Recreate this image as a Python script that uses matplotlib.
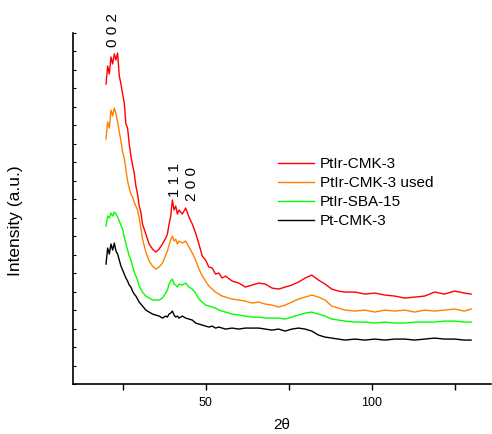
import numpy as np
import matplotlib
matplotlib.use("Agg")
from matplotlib import pyplot as plt

plt.rcParams['font.family'] = ['Liberation Sans', 'DejaVu Sans']

# 2theta grid (deg)
two_theta = [20, 20.5, 21, 21.5, 22, 22.5, 23, 23.5, 24, 24.5, 25, 25.5, 26, 26.5, 27, 27.5,
             28, 28.5, 29, 29.5, 30, 30.5, 31, 32, 33, 34, 35, 36, 37, 38, 38.5, 39, 39.5,
             40, 40.5, 41, 41.5, 42, 43, 44, 45, 46, 47, 48, 49, 50, 51, 52, 53, 54, 55, 56,
             58, 60, 62, 64, 66, 68, 70, 72, 74, 76, 78, 80, 82, 84, 86, 88, 90, 92,
             95, 98, 101, 104, 107, 110, 113, 116, 119, 122, 125, 128, 130]

# intensities (a.u., offset stacked as in the figure)
ptir_cmk3 = [300, 318, 310, 327, 320, 330, 324, 331, 308, 300, 290, 281, 260, 256, 240, 228,
             219, 211, 198, 190, 178, 172, 160, 150, 140, 135, 132, 135, 140, 146, 150, 160, 168,
             184, 174, 178, 170, 174, 170, 176, 167, 160, 151, 140, 128, 124, 117, 116, 110, 111, 106, 108,
             103, 101, 97, 99, 101, 100, 96, 95, 97, 99, 102, 106, 109, 104, 100, 95, 93, 92,
             92, 90, 91, 89, 88, 86, 87, 88, 92, 90, 93, 91, 90]
ptir_cmk3_used = [245, 262, 256, 274, 268, 276, 270, 262, 252, 243, 232, 226, 214, 203, 196, 190,
                  187, 182, 178, 174, 166, 156, 145, 132, 123, 118, 115, 117, 121, 129, 133, 139, 144,
                  148, 143, 145, 140, 143, 141, 143, 137, 131, 124, 115, 108, 103, 98, 95, 92, 90, 88, 87,
                  85, 84, 83, 81, 82, 80, 79, 77, 79, 82, 85, 87, 89, 87, 84, 78, 76, 74,
                  73, 74, 72, 74, 73, 74, 72, 74, 73, 74, 75, 73, 75]
ptir_sba15 = [158, 168, 166, 171, 168, 172, 170, 167, 163, 159, 155, 147, 140, 134, 128, 124,
              118, 112, 108, 104, 98, 95, 92, 88, 86, 84, 84, 84, 86, 91, 94, 100, 103,
              105, 100, 99, 97, 100, 99, 101, 97, 95, 91, 85, 82, 79, 78, 77, 76, 74, 73, 72,
              70, 69, 68, 67, 67, 66, 66, 66, 65, 67, 69, 71, 72, 70, 68, 65, 64, 63,
              62, 62, 61, 62, 61, 61, 62, 62, 62, 63, 63, 62, 62]
pt_cmk3 = [120, 136, 130, 140, 134, 141, 133, 130, 124, 118, 114, 110, 106, 103, 99, 97,
           93, 90, 88, 85, 82, 80, 78, 74, 72, 70, 69, 68, 66, 68, 67, 70, 71,
           73, 69, 67, 68, 66, 68, 66, 65, 64, 61, 60, 59, 58, 57, 58, 56, 57, 56, 55,
           56, 55, 56, 56, 56, 55, 54, 55, 53, 55, 56, 55, 53, 49, 47, 46, 45, 44,
           45, 44, 45, 44, 45, 45, 44, 45, 46, 45, 45, 44, 44]

series = [
    ("PtIr-CMK-3", ptir_cmk3, "#ff0000"),
    ("PtIr-CMK-3 used", ptir_cmk3_used, "#ff8000"),
    ("PtIr-SBA-15", ptir_sba15, "#00ff00"),
    ("Pt-CMK-3", pt_cmk3, "#000000"),
]

fig = plt.figure(figsize=(4.92, 4.34), dpi=100)
ax = fig.add_axes([0.148, 0.115, 0.85, 0.809])

for name, vals, col in series:
    ax.plot(two_theta, vals, color=col, lw=1.0, label=name)

ax.set_xlim(10, 136)
ax.set_ylim(0, 351)
ax.set_xticks([50, 100])
ax.set_xticks([25, 75, 125], minor=True)
ax.set_yticks(np.linspace(0, 351, 20))
ax.set_yticklabels([])
ax.tick_params(axis='x', which='both', direction='out', length=4, width=1, labelsize=9, pad=5)
ax.tick_params(axis='y', direction='in', length=2, width=0.8)
for s in ['top', 'right']:
    ax.spines[s].set_visible(False)
ax.spines['left'].set_linewidth(1.2)
ax.spines['bottom'].set_linewidth(1.2)

ax.set_xlabel("2θ", fontsize=11, labelpad=7)
ax.set_ylabel("Intensity (a.u.)", fontsize=12.5)
ax.yaxis.set_label_coords(-0.118, 0.464)

# reflection labels
ax.text(22.1, 354, "0 0 2", rotation=90, fontsize=11, ha='center', va='center', clip_on=False)
ax.text(40.9, 204, "1 1 1", rotation=90, fontsize=11, ha='center', va='center')
ax.text(45.8, 200, "2 0 0", rotation=90, fontsize=11, ha='center', va='center')

ax.legend(loc='upper left', bbox_to_anchor=(0.565, 0.638), bbox_transform=fig.transFigure,
          frameon=False, fontsize=11, handlelength=2.35, handletextpad=0.4,
          labelspacing=0.33, borderpad=0, borderaxespad=0)

fig.savefig("out.png", dpi=100)
